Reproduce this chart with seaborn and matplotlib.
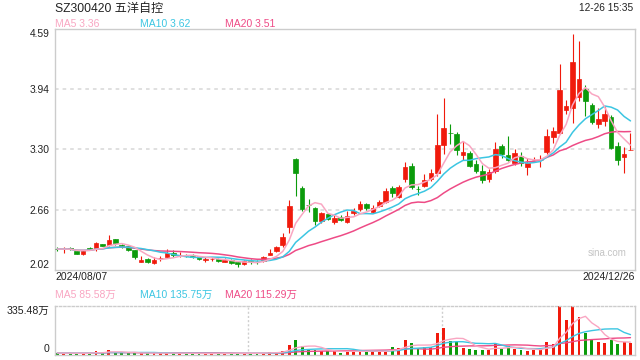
import numpy as np
import pandas as pd
import matplotlib
matplotlib.use("Agg")
import matplotlib.pyplot as plt
import seaborn as sns

sns.set_style("white")
plt.rcParams['font.family'] = ['Liberation Sans', 'Noto Sans CJK SC', 'DejaVu Sans']

title = "SZ300420 五洋自控"
timestamp = "12-26 15:35"
first_date = "2024/08/07"
last_date = "2024/12/26"
price_ticks = [2.02, 2.6625, 3.305, 3.9475, 4.59]
price_tick_labels = ["2.02", "2.66", "3.30", "3.94", "4.59"]
vol_max = 335.48
vol_tick_labels = ["0", "335.48万"]
ma_price_labels = ["MA5 3.36", "MA10 3.62", "MA20 3.51"]
ma_vol_labels = ["MA5 85.58万", "MA10 135.75万", "MA20 115.29万"]

open_ = [2.245, 2.240, 2.254, 2.222, 2.193, 2.254, 2.257, 2.297, 2.286, 2.350,
         2.282, 2.272, 2.229, 2.108, 2.140, 2.094, 2.143, 2.155, 2.201, 2.178,
         2.172, 2.164, 2.169, 2.131, 2.138, 2.140, 2.108, 2.129, 2.101, 2.087,
         2.118, 2.107, 2.112, 2.183, 2.219, 2.289, 2.481, 3.203, 2.894, 2.715,
         2.681, 2.545, 2.613, 2.531, 2.588, 2.531, 2.624, 2.670, 2.723, 2.641,
         2.702, 2.745, 2.897, 2.801, 2.987, 3.129, 2.882, 2.915, 2.990, 3.057,
         3.350, 3.483, 3.470, 3.246, 3.267, 3.150, 3.075, 2.987, 3.079, 3.342,
         3.243, 3.164, 3.235, 3.121, 3.190, 3.194, 3.278, 3.442, 3.477, 3.729,
         3.744, 3.868, 3.950, 3.779, 3.573, 3.612, 3.651, 3.342, 3.228, 3.295]
high = [2.265, 2.261, 2.265, 2.225, 2.228, 2.268, 2.318, 2.300, 2.393, 2.352,
        2.300, 2.275, 2.232, 2.169, 2.150, 2.161, 2.169, 2.243, 2.233, 2.214,
        2.190, 2.190, 2.172, 2.161, 2.161, 2.143, 2.144, 2.133, 2.115, 2.123,
        2.133, 2.123, 2.169, 2.240, 2.279, 2.411, 2.766, 3.214, 2.915, 2.777,
        2.695, 2.638, 2.631, 2.606, 2.609, 2.652, 2.681, 2.755, 2.737, 2.709,
        2.766, 2.891, 2.915, 2.923, 3.171, 3.157, 2.915, 3.040, 3.100, 3.680,
        3.851, 3.580, 3.495, 3.399, 3.289, 3.193, 3.136, 3.093, 3.385, 3.360,
        3.449, 3.310, 3.278, 3.211, 3.228, 3.246, 3.527, 3.545, 4.217, 3.836,
        4.537, 4.465, 3.993, 3.797, 3.744, 3.765, 3.673, 3.388, 3.328, 3.484]
low = [2.222, 2.205, 2.233, 2.190, 2.176, 2.233, 2.222, 2.275, 2.275, 2.283,
       2.258, 2.225, 2.140, 2.101, 2.091, 2.083, 2.119, 2.147, 2.155, 2.161,
       2.155, 2.150, 2.126, 2.108, 2.115, 2.108, 2.101, 2.085, 2.048, 2.073,
       2.087, 2.087, 2.105, 2.179, 2.208, 2.268, 2.411, 2.809, 2.649, 2.641,
       2.499, 2.521, 2.553, 2.510, 2.539, 2.521, 2.609, 2.652, 2.659, 2.631,
       2.688, 2.737, 2.795, 2.790, 2.961, 2.887, 2.823, 2.905, 2.972, 3.025,
       3.257, 3.360, 3.246, 3.193, 3.118, 3.051, 2.944, 2.961, 3.051, 3.217,
       3.185, 3.136, 3.132, 3.029, 3.168, 3.121, 3.253, 3.371, 3.467, 3.680,
       3.584, 3.819, 3.662, 3.573, 3.531, 3.559, 3.310, 3.136, 3.051, 3.295]
close = [2.243, 2.243, 2.240, 2.193, 2.225, 2.240, 2.307, 2.279, 2.339, 2.304,
         2.279, 2.229, 2.161, 2.129, 2.101, 2.126, 2.147, 2.201, 2.176, 2.180,
         2.169, 2.161, 2.140, 2.134, 2.141, 2.112, 2.126, 2.091, 2.083, 2.112,
         2.101, 2.104, 2.155, 2.197, 2.265, 2.368, 2.702, 3.057, 2.673, 2.713,
         2.545, 2.624, 2.567, 2.574, 2.549, 2.592, 2.652, 2.723, 2.677, 2.684,
         2.748, 2.865, 2.844, 2.905, 3.115, 2.908, 2.880, 2.979, 3.054, 3.353,
         3.534, 3.481, 3.303, 3.281, 3.129, 3.079, 2.979, 3.061, 3.307, 3.257,
         3.193, 3.264, 3.157, 3.164, 3.193, 3.197, 3.449, 3.502, 3.939, 3.772,
         4.238, 4.057, 3.819, 3.601, 3.630, 3.683, 3.324, 3.196, 3.257, 3.296]
volume = [10, 8, 9, 7, 9, 8, 27, 9, 33, 12,
          9, 9, 12, 10, 9, 9, 8, 11, 10, 7,
          7, 6, 8, 7, 7, 8, 7, 9, 10, 8,
          7, 7, 12, 20, 14, 27, 67, 100, 60, 33,
          29, 22, 22, 22, 13, 31, 22, 22, 22, 22,
          22, 22, 53, 47, 100, 80, 42, 53, 51, 147,
          180, 91, 87, 42, 40, 33, 33, 33, 73, 40,
          56, 40, 33, 27, 33, 33, 87, 73, 329, 233,
          335.48, 260, 149, 104, 89, 82, 100, 73, 87, 82]

RED = "#f01a0c"
GREEN = "#0b9b0b"
MA5C = "#f9a6c2"
MA10C = "#3cc6e2"
MA20C = "#ee4b86"
GRID = "#dddddd"
BORDER = "#cccccc"

df = pd.DataFrame({"open": open_, "high": high, "low": low, "close": close, "vol": volume})
df["i"] = np.arange(len(df))
for w in (5, 10, 20):
    df[f"ma{w}"] = df["close"].rolling(w, min_periods=1).mean()
    df[f"vma{w}"] = df["vol"].rolling(w, min_periods=1).mean()
up = df["close"] >= df["open"]
colors = np.where(up, RED, GREEN)

fig = plt.figure(figsize=(6.4, 3.6), dpi=100)
ax = fig.add_axes([55/640, 90/360, 580/640, 241/360])
axv = fig.add_axes([55/640, 5.5/360, 580/640, 49/360])

# candles
ax.vlines(df["i"], df["low"], df["high"], colors=colors, lw=0.8, zorder=2)
ax.bar(df["i"], (df["close"] - df["open"]).abs(), bottom=np.minimum(df["open"], df["close"]),
       width=0.72, color=colors, edgecolor=colors, lw=0.5, zorder=3)
for col, c in (("ma20", MA20C), ("ma10", MA10C), ("ma5", MA5C)):
    sns.lineplot(data=df, x="i", y=col, ax=ax, color=c, lw=1.1, zorder=4)

xl = (-0.37, len(df) - 1 + 0.7)
ax.set_xlim(*xl)
ax.set_ylim(2.02, 4.59)
ax.set_xlabel("")
ax.set_ylabel("")
ax.set_xticks([])
ax.set_yticks(price_ticks)
ax.set_yticklabels(price_tick_labels)
ax.tick_params(axis="y", length=0, pad=4, labelsize=7.4, labelcolor="#222222")
tl = ax.get_yticklabels()
tl[0].set_va("bottom")
tl[-1].set_va("top")
for y in price_ticks[1:-1]:
    ax.axhline(y, color=GRID, lw=1.3, ls=(0, (2, 2.2)), zorder=1)
for s in ax.spines.values():
    s.set_color(BORDER)
    s.set_linewidth(1)
ax.text(0.985, 0.07, "sina.com", transform=ax.transAxes, ha="right", va="center",
        fontsize=7, color="#c4c4c4")

# volume
axv.bar(df["i"], df["vol"], width=0.45, color=colors, lw=0, zorder=2)
for col, c in (("vma20", MA20C), ("vma10", MA10C), ("vma5", MA5C)):
    sns.lineplot(data=df, x="i", y=col, ax=axv, color=c, lw=1.0, zorder=3)
axv.set_xlim(*xl)
axv.set_ylim(0, vol_max)
axv.set_xlabel("")
axv.set_ylabel("")
axv.set_xticks([])
axv.set_yticks([0, vol_max])
axv.set_yticklabels(vol_tick_labels)
axv.tick_params(axis="y", length=0, pad=4, labelsize=7.6, labelcolor="#222222")
vl = axv.get_yticklabels()
vl[0].set_va("bottom")
vl[-1].set_va("top")
for xf in (1/3, 2/3):
    axv.plot([xf, xf], [0, 1], transform=axv.transAxes, color="#cfcfcf", lw=1,
             ls=(0, (1.5, 1.5)), zorder=1)
for s in axv.spines.values():
    s.set_color(BORDER)
    s.set_linewidth(1)
axv.spines["top"].set_linestyle((0, (1.5, 1.5)))

# texts
fig.text(55/640, 1 - 9/360, title, ha="left", va="center", fontsize=8.7, color="#222222")
fig.text(633/640, 1 - 8/360, timestamp, ha="right", va="center", fontsize=7.3, color="#222222")
for xp, lab, c in zip((55, 140, 225), ma_price_labels, (MA5C, MA10C, MA20C)):
    fig.text(xp/640, 1 - 24/360, lab, ha="left", va="center", fontsize=7.5, color=c)
for xp, lab, c in zip((55, 140, 225), ma_vol_labels, (MA5C, MA10C, MA20C)):
    fig.text(xp/640, 1 - 295/360, lab, ha="left", va="center", fontsize=7.5, color=c)
fig.text(55/640, 1 - 277/360, first_date, ha="left", va="center", fontsize=7.5, color="#222222")
fig.text(635/640, 1 - 277/360, last_date, ha="right", va="center", fontsize=7.5, color="#222222")

fig.savefig("out.png", dpi=100)
